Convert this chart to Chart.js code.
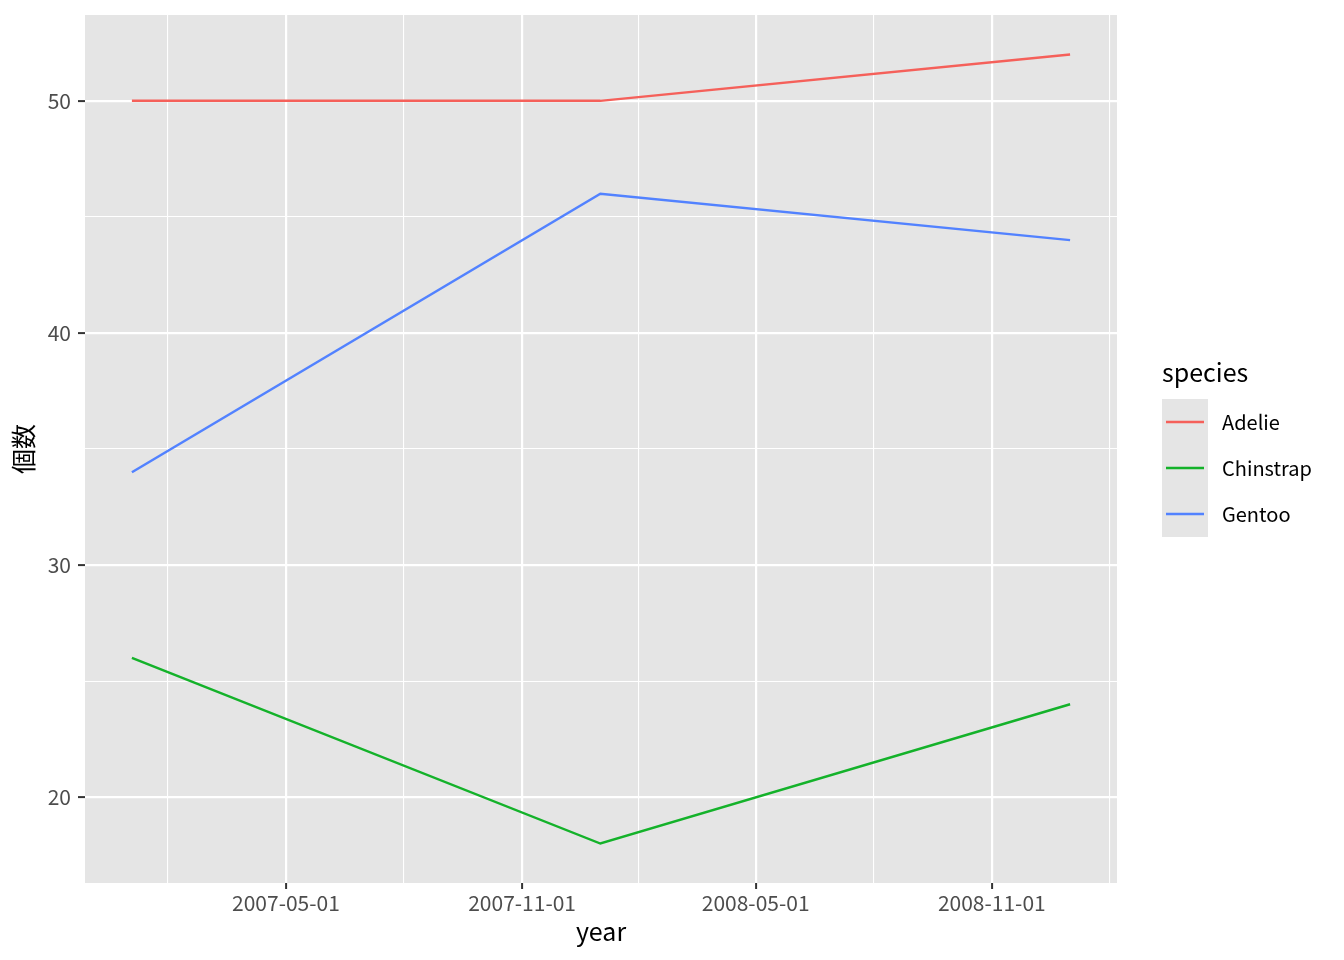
<!DOCTYPE html>
<html>
<head>
<meta charset="utf-8">
<script src="https://cdn.jsdelivr.net/npm/chart.js@4"></script>
<style>
  html, body { margin: 0; padding: 0; background: #fff; }
  #wrap { width: 1344px; height: 960px; }
</style>
</head>
<body>
<div id="wrap"><canvas id="chart"></canvas></div>
<script>
// data
const years = ['2007-01-01', '2008-01-01', '2009-01-01'];
const species = ['Adelie', 'Chinstrap', 'Gentoo'];
const adelie = [50, 50, 52];
const chinstrap = [26, 18, 24];
const gentoo = [34, 46, 44];
const colors = ['#F5605A', '#14B22A', '#5282FF'];
const xMajor = ['2007-05-01', '2007-11-01', '2008-05-01', '2008-11-01'];
const yMajor = [20, 30, 40, 50];
const yMinor = [25, 35, 45];

const FONT = "'Noto Sans CJK JP', 'Noto Sans', sans-serif";

// days since first year
function day(s) {
  return (Date.parse(s + 'T00:00:00Z') - Date.parse(years[0] + 'T00:00:00Z')) / 86400000;
}
const xs = years.map(day);
const xMajorDays = xMajor.map(day);
// minor breaks halfway between majors, plus one on each side
const xMinorDays = [];
for (let i = 0; i < xMajorDays.length - 1; i++) xMinorDays.push((xMajorDays[i] + xMajorDays[i + 1]) / 2);
xMinorDays.unshift(xMajorDays[0] - (xMinorDays[0] - xMajorDays[0]));
xMinorDays.push(xMajorDays[xMajorDays.length - 1] + (xMajorDays[xMajorDays.length - 1] - xMinorDays[xMinorDays.length - 1]));

const series = [adelie, chinstrap, gentoo];
const xSpan = xs[xs.length - 1] - xs[0];
const allY = series.flat();
const yLo = Math.min(...allY), yHi = Math.max(...allY);

const isMajorX = v => xMajorDays.includes(v);
const isMajorY = v => yMajor.includes(v);

const panelBg = {
  id: 'panelBg',
  beforeDraw(chart) {
    const a = chart.chartArea, c = chart.ctx;
    c.save();
    c.fillStyle = '#E5E5E5';
    c.fillRect(a.left, a.top, a.right - a.left, a.bottom - a.top);
    c.restore();
  }
};

const ggLegend = {
  id: 'ggLegend',
  afterDraw(chart) {
    const c = chart.ctx;
    const x0 = 1162, top = 399, key = 46;
    c.save();
    c.fillStyle = '#000';
    c.font = '25px ' + FONT;
    c.textBaseline = 'alphabetic';
    c.fillText('species', x0, 382);
    c.fillStyle = '#E5E5E5';
    c.fillRect(x0, top, key, key * species.length);
    species.forEach((name, i) => {
      const cy = top + key * i + key / 2;
      c.strokeStyle = colors[i];
      c.lineWidth = 2.5;
      c.beginPath();
      c.moveTo(x0 + 4, cy);
      c.lineTo(x0 + key - 4, cy);
      c.stroke();
      c.fillStyle = '#000';
      c.font = '20px ' + FONT;
      c.textBaseline = 'middle';
      c.fillText(name, 1222, cy);
    });
    c.restore();
  }
};

new Chart(document.getElementById('chart'), {
  type: 'line',
  data: {
    datasets: species.map((name, i) => ({
      label: name,
      data: series[i].map((v, j) => ({ x: xs[j], y: v })),
      borderColor: colors[i],
      backgroundColor: colors[i],
      borderWidth: 2.5,
      pointRadius: 0,
      tension: 0,
    })),
  },
  options: {
    responsive: true,
    maintainAspectRatio: false,
    animation: false,
    layout: { padding: { left: 0, top: 15, right: 227, bottom: 0 } },
    plugins: { legend: { display: false }, tooltip: { enabled: false } },
    scales: {
      x: {
        type: 'linear',
        min: xs[0] - xSpan * 0.05,
        max: xs[xs.length - 1] + xSpan * 0.05,
        afterBuildTicks: s => { s.ticks = [...xMinorDays, ...xMajorDays].sort((a, b) => a - b).map(v => ({ value: v })); },
        afterFit: s => { s.height = 77; s.paddingLeft = 0; s.paddingRight = 0; },
        border: { display: false },
        grid: {
          color: '#FFFFFF',
          lineWidth: c => (c.tick && isMajorX(c.tick.value)) ? 2.2 : 1.1,
          tickColor: c => (c.tick && isMajorX(c.tick.value)) ? '#333333' : 'rgba(0,0,0,0)',
          tickLength: 6,
          tickWidth: 2,
        },
        ticks: {
          autoSkip: false,
          maxRotation: 0,
          padding: 1,
          color: '#4D4D4D',
          font: { family: FONT, size: 21 },
          callback: v => isMajorX(v) ? xMajor[xMajorDays.indexOf(v)] : '',
        },
        title: {
          display: true, text: 'year', color: '#000',
          font: { family: FONT, size: 25 }, padding: { top: 0, bottom: 14 },
        },
      },
      y: {
        type: 'linear',
        min: yLo - (yHi - yLo) * 0.05,
        max: yHi + (yHi - yLo) * 0.05,
        afterBuildTicks: s => { s.ticks = [...yMajor, ...yMinor].sort((a, b) => a - b).map(v => ({ value: v })); },
        afterFit: s => { s.width = 85; s.paddingTop = 0; s.paddingBottom = 0; },
        border: { display: false },
        grid: {
          color: '#FFFFFF',
          lineWidth: c => (c.tick && isMajorY(c.tick.value)) ? 2.2 : 1.1,
          tickColor: c => (c.tick && isMajorY(c.tick.value)) ? '#333333' : 'rgba(0,0,0,0)',
          tickLength: 7,
          tickWidth: 2,
        },
        ticks: {
          autoSkip: false,
          padding: 7,
          color: '#4D4D4D',
          font: { family: FONT, size: 21 },
          callback: v => isMajorY(v) ? String(v) : '',
        },
        title: {
          display: true, text: '個数', color: '#000',
          font: { family: FONT, size: 25 }, padding: { top: 8, bottom: 0 },
        },
      },
    },
  },
  plugins: [panelBg, ggLegend],
});
</script>
</body>
</html>
